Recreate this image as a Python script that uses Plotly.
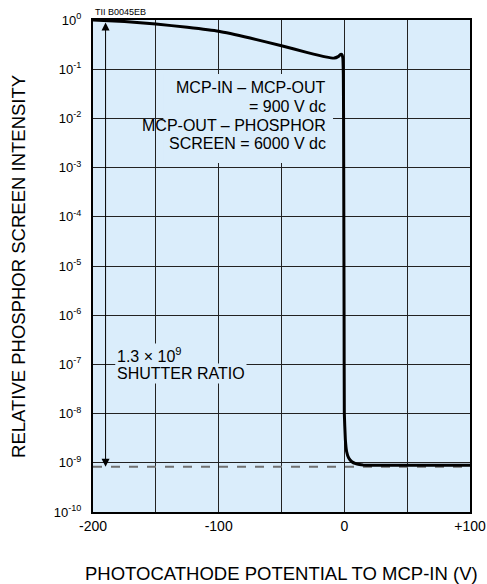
import plotly.graph_objects as go

# Data
potential = [-200, -175, -150, -125, -100, -75, -50, -30, -15, -8, -5, -3, -2, -1.2,
             -0.8, -0.6, -0.4, -0.2, 0, 0.8, 1.8, 3.5, 6, 9, 12, 15, 20, 30, 60, 100]
intensity = [1.0, 0.93, 0.83, 0.71, 0.59, 0.43, 0.30, 0.22, 0.178, 0.168, 0.18, 0.2, 0.2, 0.17,
             0.08, 1e-2, 1e-4, 1e-6, 1e-8, 3e-9, 1.7e-9, 1.25e-9, 1.05e-9, 9.6e-10, 9.2e-10,
             9.0e-10, 8.9e-10, 8.9e-10, 8.9e-10, 8.9e-10]
noise_floor = 8.3e-10
x_range = [-200, 100]
x_grid = [-200, -150, -100, -50, 0, 50, 100]
x_labels = ["-200", "", "-100", "", "0", "", "+100"]
y_vals = [10.0 ** (-k) for k in range(0, 11)]
y_labels = ["10<sup>%s</sup>" % (-k if k else 0) for k in range(0, 11)]
arrow_x = -190
mcp_lines = ["MCP-IN – MCP-OUT", "= 900 V dc", "MCP-OUT – PHOSPHOR", "SCREEN = 6000 V dc"]
mcp_line_y = [-1.362, -1.768, -2.154, -2.52]   # log10 positions of each text line
shutter_lines = ["1.3 × 10<sup>9</sup>", "SHUTTER RATIO"]
shutter_line_y = [-6.81, -7.175]

FONT = "Liberation Sans, Arial, Helvetica, sans-serif"
BG = "#daedfb"

fig = go.Figure()
fig.add_trace(go.Scatter(x=x_range, y=[noise_floor, noise_floor], mode="lines",
                         line=dict(color="#707070", width=2, dash="dash"),
                         hoverinfo="skip", showlegend=False))
fig.add_trace(go.Scatter(x=potential, y=intensity, mode="lines",
                         line=dict(color="black", width=3, shape="spline", smoothing=0.3),
                         showlegend=False))

# background patch behind the voltage text (hides grid lines there)
fig.add_shape(type="rect", xref="x", yref="y", x0=-144, x1=-9,
              y0=10 ** -2.906, y1=10 ** -1.098, fillcolor=BG,
              line=dict(width=0), layer="between")

annotations = [
    dict(x=arrow_x, y=-9.08, ax=arrow_x, ay=-0.02, xref="x", yref="y",
         axref="x", ayref="y", text="", showarrow=True,
         arrowhead=2, startarrowhead=2, arrowside="end+start",
         arrowsize=1.6, startarrowsize=1.6, arrowwidth=1, arrowcolor="black"),
    dict(x=0, y=1, xref="paper", yref="paper", xanchor="left", yanchor="bottom",
         text="TII B0045EB", showarrow=False, font=dict(size=9), yshift=1),
    dict(x=-0.199, y=0.5, xref="paper", yref="paper", xanchor="center", yanchor="middle",
         text="RELATIVE PHOSPHOR SCREEN INTENSITY", textangle=-90,
         showarrow=False, font=dict(size=18.5)),
    dict(x=0.5, y=-0.124, xref="paper", yref="paper", xanchor="center", yanchor="middle",
         text="PHOTOCATHODE POTENTIAL TO MCP-IN (V)",
         showarrow=False, font=dict(size=18.5)),
]
for txt, ly in zip(mcp_lines, mcp_line_y):
    annotations.append(dict(x=-13, y=ly, xref="x", yref="y", xanchor="right",
                            yanchor="middle", text=txt, showarrow=False,
                            font=dict(size=16)))
for txt, ly in zip(shutter_lines, shutter_line_y):
    annotations.append(dict(x=-182.5, y=ly, xref="x", yref="y", xanchor="left",
                            yanchor="middle", text=txt, showarrow=False,
                            font=dict(size=16), bgcolor=BG))

fig.update_layout(
    width=487, height=584,
    margin=dict(l=93, r=17, t=20, b=72, autoexpand=False),
    paper_bgcolor="white", plot_bgcolor=BG,
    font=dict(family=FONT, color="black", size=13),
    xaxis=dict(range=x_range, tickvals=x_grid, ticktext=x_labels,
               showgrid=True, gridcolor="#222", gridwidth=1,
               showline=True, linecolor="black", linewidth=2, mirror=True,
               zeroline=False, ticks="", tickfont=dict(size=14), automargin=False,
               ticklabeloverflow="allow"),
    yaxis=dict(type="log", range=[-10, 0], tickvals=y_vals, ticktext=y_labels,
               showgrid=True, gridcolor="#222", gridwidth=1,
               showline=True, linecolor="black", linewidth=2, mirror=True,
               zeroline=False, ticks="outside", ticklen=7, tickcolor="rgba(0,0,0,0)",
               tickfont=dict(size=13), automargin=False, ticklabeloverflow="allow"),
    annotations=annotations,
)

# remove the default page margin so the 487x584 figure fills the window exactly
page_css = ("document.body.style.margin='0';"
            "document.body.style.overflow='hidden';"
            "document.documentElement.style.overflow='hidden';")
fig.write_html("out.html", post_script=page_css, config={"displayModeBar": False})
